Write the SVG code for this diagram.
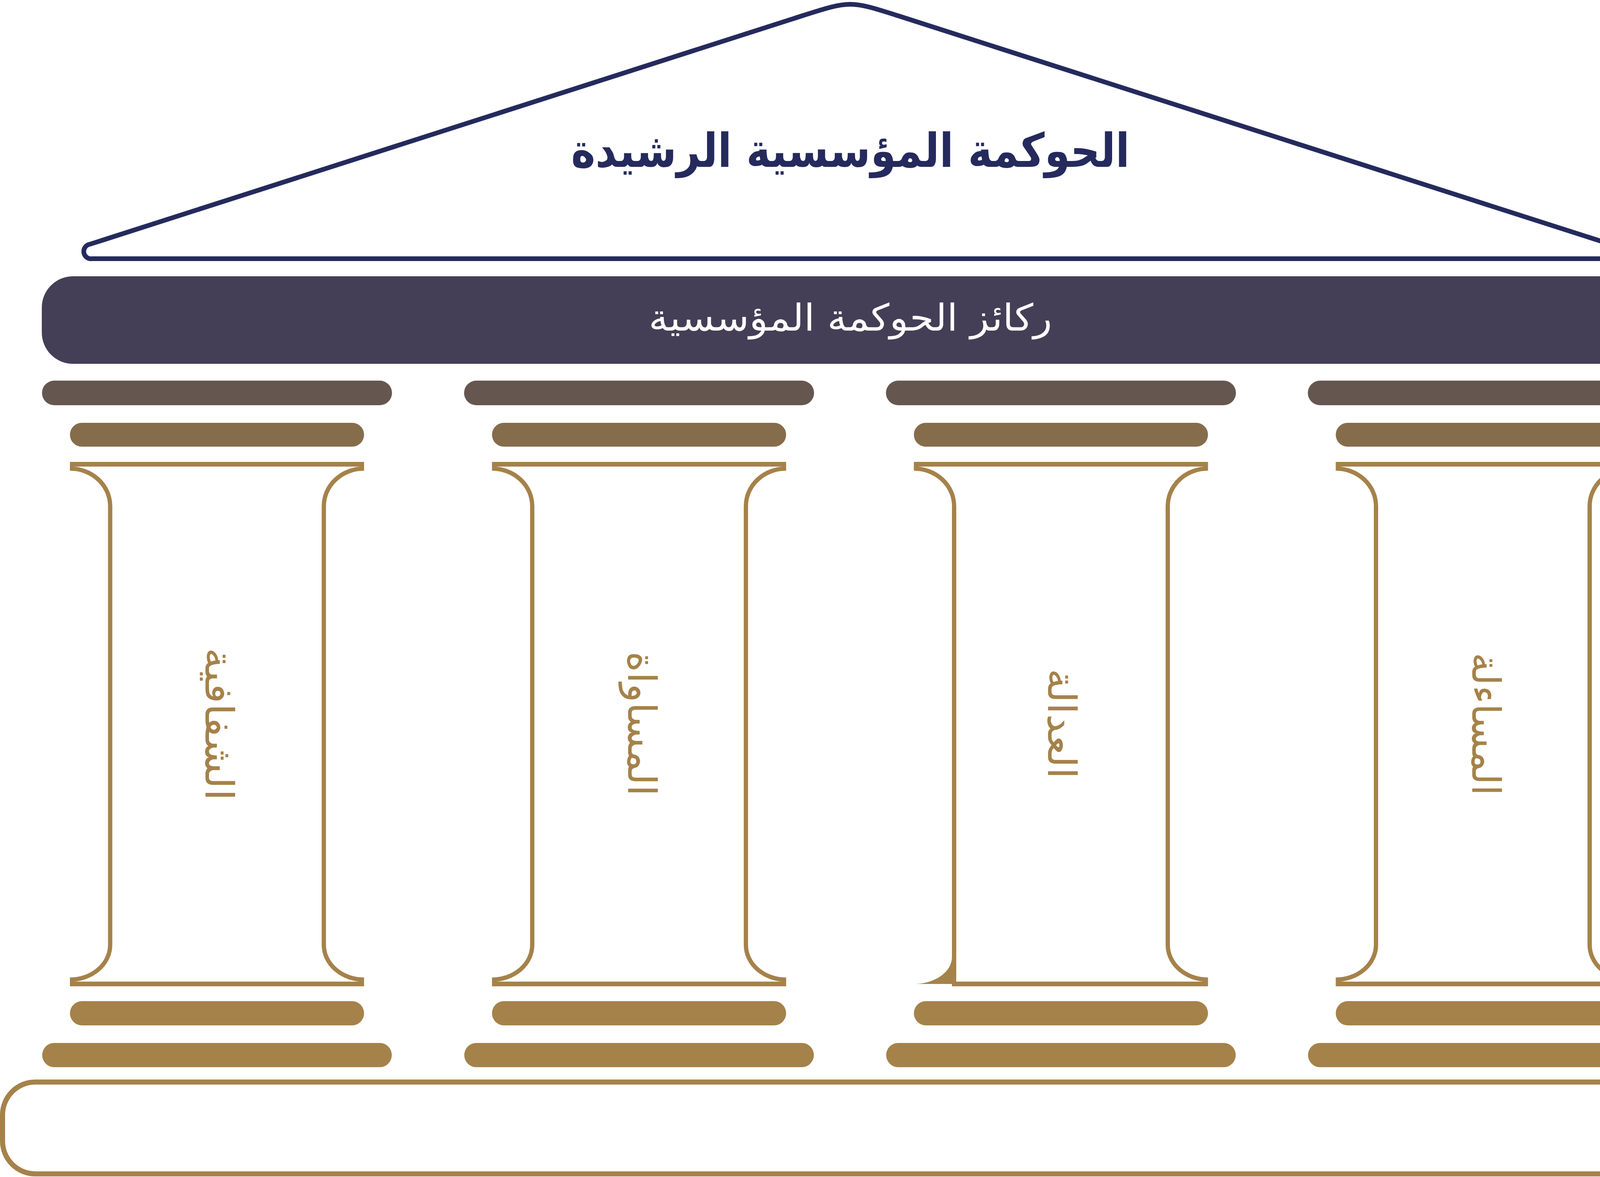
<svg xmlns="http://www.w3.org/2000/svg" width="4354" height="3012" viewBox="0 0 4354 3012">
<defs>
<style>
.gs{fill:none;stroke:#a5824a;stroke-width:11}
.gl{fill:none;stroke:#a5824a;stroke-width:12}
.abacus{fill:#655750}
.echinus{fill:#856d4c}
.base{fill:#a5824a}
.pt{font-family:'DejaVu Sans','Noto Sans',sans-serif;font-size:100px;fill:#a5824a}
.ttl{font-family:'DejaVu Sans','Noto Sans',sans-serif;font-weight:bold;font-size:120px;fill:#252a5d}
.bt{font-family:'DejaVu Sans','Noto Sans',sans-serif;font-size:95px;fill:#ffffff}
</style>
</defs>
<rect x="0" y="0" width="4354" height="3012" fill="#ffffff"/>

<g id="roof">
<path d="M 236 662 L 4117 662 A 18 18 0 0 0 4122.6 624.9 L 2300.5 40.8 C 2176.5 1.2 2176.5 1.2 2052.5 40.8 L 230.4 624.9 A 18 18 0 0 0 236 662 Z" fill="#ffffff" stroke="#252a5d" stroke-width="12" stroke-linejoin="round"/>
<text class="ttl" x="2177" y="427" text-anchor="middle" direction="rtl" textLength="1430" lengthAdjust="spacingAndGlyphs">الحوكمة المؤسسية الرشيدة</text>
</g>

<g id="band">
<rect x="107" y="707" width="4139" height="224" rx="80" fill="#443f56"/>
<text class="bt" x="2177" y="846" text-anchor="middle" direction="rtl" textLength="1033" lengthAdjust="spacingAndGlyphs">ركائز الحوكمة المؤسسية</text>
</g>

<g id="pillar-1" transform="translate(555.5 0)">
<rect class="abacus" x="-448" y="974" width="896" height="63" rx="31.5"/>
<rect class="echinus" x="-376.5" y="1082" width="753" height="61" rx="30.5"/>
<path class="gl" d="M -376.5 1188 H 376.5 M -376.5 2518 H 376.5"/>
<path class="gs" d="M -376.5 1199 A 103 96 0 0 1 -273.5 1295 V 2418 A 103 89 0 0 1 -376.5 2507"/>
<path class="gs" d="M 376.5 1199 A 103 96 0 0 0 273.5 1295 V 2418 A 103 89 0 0 0 376.5 2507"/>
<rect class="base" x="-376.5" y="2562" width="753" height="62" rx="31"/>
<rect class="base" x="-447.5" y="2669" width="895" height="62" rx="31"/>
<text class="pt" transform="translate(-29.5 1853) rotate(90)" text-anchor="middle" direction="rtl" textLength="392" lengthAdjust="spacingAndGlyphs">الشفافية</text>
</g>

<g id="pillar-2" transform="translate(1636 0)">
<rect class="abacus" x="-448" y="974" width="896" height="63" rx="31.5"/>
<rect class="echinus" x="-376.5" y="1082" width="753" height="61" rx="30.5"/>
<path class="gl" d="M -376.5 1188 H 376.5 M -376.5 2518 H 376.5"/>
<path class="gs" d="M -376.5 1199 A 103 96 0 0 1 -273.5 1295 V 2418 A 103 89 0 0 1 -376.5 2507"/>
<path class="gs" d="M 376.5 1199 A 103 96 0 0 0 273.5 1295 V 2418 A 103 89 0 0 0 376.5 2507"/>
<rect class="base" x="-376.5" y="2562" width="753" height="62" rx="31"/>
<rect class="base" x="-447.5" y="2669" width="895" height="62" rx="31"/>
<text class="pt" transform="translate(-28 1852) rotate(90)" text-anchor="middle" direction="rtl" textLength="370" lengthAdjust="spacingAndGlyphs">المساواة</text>
</g>

<g id="pillar-3" transform="translate(2716 0)">
<rect class="abacus" x="-448" y="974" width="896" height="63" rx="31.5"/>
<rect class="echinus" x="-376.5" y="1082" width="753" height="61" rx="30.5"/>
<path class="gl" d="M -376.5 1188 H 376.5 M -279 2518 H 376.5"/>
<path class="gs" d="M -376.5 1199 A 103 96 0 0 1 -273.5 1295 V 2524"/>
<path class="base" d="M -279 2449 A 97 69 0 0 1 -376 2518 L -273.5 2518 L -273.5 2449 Z"/>
<path class="gs" d="M 376.5 1199 A 103 96 0 0 0 273.5 1295 V 2418 A 103 89 0 0 0 376.5 2507"/>
<rect class="base" x="-376.5" y="2562" width="753" height="62" rx="31"/>
<rect class="base" x="-447.5" y="2669" width="895" height="62" rx="31"/>
<text class="pt" transform="translate(-33 1852) rotate(90)" text-anchor="middle" direction="rtl" textLength="282" lengthAdjust="spacingAndGlyphs">العدالة</text>
</g>

<g id="pillar-4" transform="translate(3796 0)">
<rect class="abacus" x="-448" y="974" width="896" height="63" rx="31.5"/>
<rect class="echinus" x="-376.5" y="1082" width="753" height="61" rx="30.5"/>
<path class="gl" d="M -376.5 1188 H 376.5 M -376.5 2518 H 376.5"/>
<path class="gs" d="M -376.5 1199 A 103 96 0 0 1 -273.5 1295 V 2418 A 103 89 0 0 1 -376.5 2507"/>
<path class="gs" d="M 376.5 1199 A 103 96 0 0 0 273.5 1295 V 2418 A 103 89 0 0 0 376.5 2507"/>
<rect class="base" x="-376.5" y="2562" width="753" height="62" rx="31"/>
<rect class="base" x="-447.5" y="2669" width="895" height="62" rx="31"/>
<text class="pt" transform="translate(-27 1853) rotate(90)" text-anchor="middle" direction="rtl" textLength="366" lengthAdjust="spacingAndGlyphs">المساءلة</text>
</g>

<g id="plinth">
<rect x="6.5" y="2769" width="4336" height="235" rx="84" fill="none" stroke="#a5824a" stroke-width="13"/>
</g>
</svg>
